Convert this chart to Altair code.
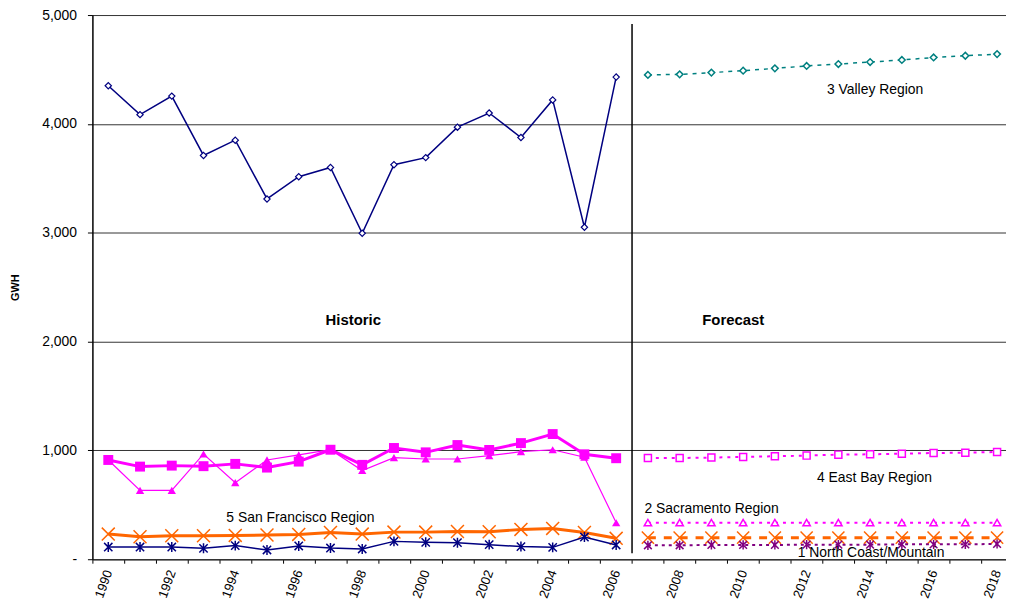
import altair as alt
import pandas as pd

# ---------------- data ----------------
all_years = [1990, 1991, 1992, 1993, 1994, 1995, 1996, 1997, 1998, 1999, 2000, 2001, 2002, 2003,
             2004, 2005, 2006, 2007, 2008, 2009, 2010, 2011, 2012, 2013, 2014, 2015, 2016, 2017, 2018]
hist_years = [1990, 1991, 1992, 1993, 1994, 1995, 1996, 1997, 1998, 1999, 2000, 2001, 2002, 2003,
              2004, 2005, 2006]
fc_years = [2007, 2008, 2009, 2010, 2011, 2012, 2013, 2014, 2015, 2016, 2017, 2018]

valley_hist = [4350, 4085, 4255, 3710, 3850, 3310, 3515, 3600, 2995, 3625, 3690, 3970, 4100, 3875, 4220, 3050, 4430]
eastbay_hist = [912, 851, 860, 855, 876, 842, 897, 1006, 867, 1022, 982, 1049, 1004, 1067, 1150, 964, 928]
sacramento_hist = [912, 632, 632, 967, 703, 912, 958, 1006, 815, 933, 921, 921, 952, 988, 1006, 937, 335]
sf_hist = [231, 207, 216, 216, 219, 222, 228, 246, 231, 249, 249, 255, 252, 274, 283, 246, 192]
northcoast_hist = [112, 112, 112, 100, 125, 85, 122, 103, 94, 164, 155, 152, 134, 116, 109, 204, 131]

valley_fc = [4450, 4455, 4471, 4489, 4510, 4532, 4550, 4568, 4587, 4610, 4626, 4641]
eastbay_fc = [930, 930, 934, 940, 946, 952, 961, 964, 970, 976, 979, 985]
sacramento_fc = [336, 336, 336, 336, 336, 336, 336, 336, 336, 336, 336, 336]
sf_fc = [198, 198, 198, 198, 198, 198, 198, 198, 198, 198, 198, 198]
northcoast_fc = [128, 128, 131, 131, 131, 134, 134, 134, 137, 137, 137, 140]

y_ticks = [0, 1000, 2000, 3000, 4000, 5000]

FONT = "Liberation Sans"
X_PATH = "M-1,-1L1,1M1,-1L-1,1"
STAR_PATH = "M-1,-1L1,1M1,-1L-1,1M0,-1.2L0,1.2"

# ---------------- shared encodings ----------------
X_SCALE = alt.Scale(type="band", domain=all_years, paddingInner=0, paddingOuter=0, range=[0, 927])
X_AXIS = alt.Axis(
    tickBand="extent",
    labelExpr="datum.value % 2 == 0 ? datum.label : ''",
    labelAngle=290,
    labelFont=FONT,
    labelFontSize=13,
    labelColor="#000000",
    labelOverlap=False,
    labelPadding=7,
    tickSize=4,
    tickColor="#000000",
    domainColor="#333333",
    domainWidth=1.5,
    grid=False,
)
X = alt.X("year:O", title=None, scale=X_SCALE, axis=X_AXIS)

Y = alt.Y(
    "value:Q",
    scale=alt.Scale(domain=[0, 5000], nice=False),
    axis=alt.Axis(
        values=y_ticks,
        labelExpr="datum.value == 0 ? '-\u00a0\u00a0\u00a0\u00a0' : format(datum.value, ',')",
        labelFont=FONT,
        labelFontSize=14,
        labelColor="#000000",
        labelPadding=11,
        tickSize=5,
        tickColor="#000000",
        domainColor="#000000",
        domainWidth=1.5,
        grid=True,
        gridColor="#333333",
        gridWidth=1,
        title="GWH",
        titleFont=FONT,
        titleFontSize=11,
        titleFontWeight="bold",
        titleAngle=270,
        titleX=-77,
        titleY=274,
        titleAlign="center",
        titleBaseline="middle",
        titleColor="#000000",
    ),
)


def frame(years, values):
    return pd.DataFrame({"year": years, "value": values})


def series(years, values, color, shape, size, filled, width, dash=None, pt_width=1.2):
    base = alt.Chart(frame(years, values))
    line_kw = dict(color=color, strokeWidth=width)
    if dash is not None:
        line_kw["strokeDash"] = dash
    line = base.mark_line(**line_kw).encode(x=X, y=Y)
    if filled == "solid":
        pts = base.mark_point(shape=shape, size=size, filled=True, color=color, opacity=1)
    elif filled == "open":
        pts = base.mark_point(shape=shape, size=size, filled=True, fill="white", stroke=color,
                              strokeWidth=pt_width, opacity=1)
    else:
        pts = base.mark_point(shape=shape, size=size, filled=False, color=color,
                              strokeWidth=pt_width, opacity=1)
    return [line, pts.encode(x=X, y=Y)]


layers = []
# historic
layers += series(hist_years, valley_hist, "#000080", "diamond", 40, "open", 1.5)
layers += series(hist_years, sacramento_hist, "#FF00FF", "triangle-up", 70, "solid", 1.2)
layers += series(hist_years, eastbay_hist, "#FF00FF", "square", 100, "solid", 3)
layers += series(hist_years, sf_hist, "#FF6600", X_PATH, 170, "stroke", 3, pt_width=1.5)
layers += series(hist_years, northcoast_hist, "#000080", STAR_PATH, 70, "stroke", 1.5, pt_width=1.5)
# forecast
layers += series(fc_years, valley_fc, "#008080", "diamond", 45, "open", 1.5, dash=[4, 5], pt_width=1.5)
layers += series(fc_years, eastbay_fc, "#FF00FF", "square", 50, "open", 2, dash=[3, 5], pt_width=1.5)
layers += series(fc_years, sacramento_fc, "#FF00FF", "triangle-up", 55, "open", 2, dash=[3, 5], pt_width=1.5)
layers += series(fc_years, sf_fc, "#FF6600", X_PATH, 150, "stroke", 3, dash=[8, 8], pt_width=1.5)
layers += series(fc_years, northcoast_fc, "#800080", STAR_PATH, 60, "stroke", 2, dash=[3, 4], pt_width=1.5)

# separator between historic and forecast
sep = alt.Chart(pd.DataFrame({"year": [2007], "value": [4918], "value2": [55]})).mark_rule(
    color="#000000", strokeWidth=1.5
).encode(x=alt.X("year:O", bandPosition=0, scale=X_SCALE, axis=X_AXIS, title=None), y=Y, y2="value2:Q")
layers.append(sep)

# annotations
annotations = [
    (1998, 2199, "Historic", -9, "bold", "center"),
    (2010, 2199, "Forecast", -10, "bold", "center"),
    (2013, 4313, "3 Valley Region", -11.5, "normal", "left"),
    (2013, 745, "4 East Bay Region", -21.5, "normal", "left"),
    (2007, 465, "2 Sacramento Region", -3.5, "normal", "left"),
    (2012, 55, "1 North Coast/Mountain", -9, "normal", "left"),
    (1994, 383, "5 San Francisco Region", -9, "normal", "left"),
]
for yr, val, txt, dx, weight, align in annotations:
    t = alt.Chart(pd.DataFrame({"year": [yr], "value": [val], "label": [txt]})).mark_text(
        font=FONT, fontSize=15 if weight == "bold" else 14, fontWeight=weight, align=align,
        baseline="middle", dx=dx, color="#000000"
    ).encode(x=X, y=Y, text="label:N")
    layers.append(t)

chart = alt.layer(*layers).properties(
    width=920,
    height=548,
    padding={"left": 85, "top": 5, "right": 0, "bottom": 43},
    autosize=alt.AutoSizeParams(type="none"),
).configure_view(stroke=None)

chart.save("out.html", embed_options={"renderer": "svg", "actions": False})
